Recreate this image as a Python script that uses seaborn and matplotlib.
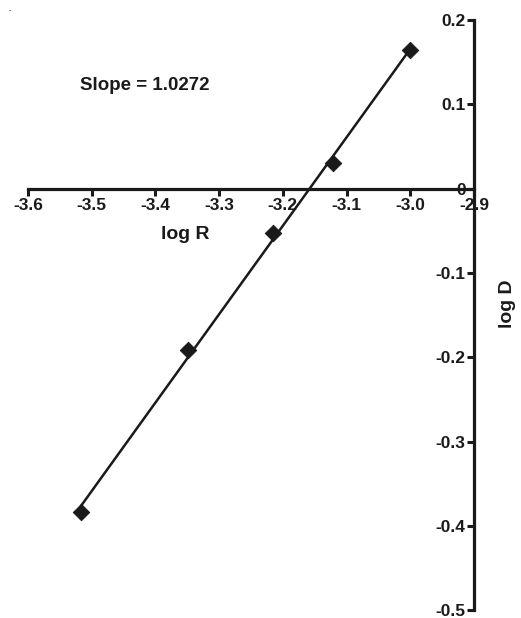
import numpy as np
import pandas as pd
import seaborn as sns
import matplotlib.pyplot as plt
import matplotlib.ticker as mticker

# data
log_r = [-3.5173, -3.3493, -3.2154, -3.1213, -3.0004]
log_d = [-0.384, -0.1915, -0.053, 0.031, 0.1644]

x_ticks = [-3.6, -3.5, -3.4, -3.3, -3.2, -3.1, -3.0, -2.9]
x_ticklabels = ['-3.6', '-3.5', '-3.4', '-3.3', '-3.2', '-3.1', '-3.0', '-2.9']
y_ticks = [-0.5, -0.4, -0.3, -0.2, -0.1, 0.0, 0.1, 0.2]
y_ticklabels = ['-0.5', '-0.4', '-0.3', '-0.2', '-0.1', '0', '0.1', '0.2']

df = pd.DataFrame({'log R': log_r, 'log D': log_d})

sns.set_style('white')
plt.rcParams['font.family'] = ['Liberation Sans', 'DejaVu Sans']
ink = '#1a1a1a'

fig = plt.figure(figsize=(5.21, 6.18), dpi=100)
ax = fig.add_axes([28 / 521, 1 - 610.2 / 618, 446 / 521, 590 / 618])

sns.regplot(data=df, x='log R', y='log D', ax=ax, scatter=False, ci=None,
            truncate=True, line_kws={'color': ink, 'lw': 1.8})
sns.scatterplot(data=df, x='log R', y='log D', ax=ax, marker='D', s=70,
                color=ink, edgecolor=ink, zorder=5)

ax.set_xlim(-3.6, -2.9)
ax.set_ylim(-0.5, 0.2)

# axes crossing: x axis at y=0, y axis at x=-2.9
ax.spines['top'].set_visible(False)
ax.spines['right'].set_visible(False)
ax.spines['bottom'].set_position(('data', 0))
ax.spines['left'].set_position(('data', -2.9))
for s in ['bottom', 'left']:
    ax.spines[s].set_linewidth(2.3)
    ax.spines[s].set_color(ink)

ax.xaxis.set_major_locator(mticker.FixedLocator(x_ticks))
ax.xaxis.set_major_formatter(mticker.FixedFormatter(x_ticklabels))
ax.yaxis.set_major_locator(mticker.FixedLocator(y_ticks))
ax.yaxis.set_major_formatter(mticker.FixedFormatter(y_ticklabels))
ax.tick_params(axis='both', which='major', direction='out', length=5,
               width=2.2, color=ink, labelsize=12.5, labelcolor=ink, pad=2,
               bottom=True, left=True)
ax.tick_params(axis='y', pad=1)
for lab in ax.get_xticklabels() + ax.get_yticklabels():
    lab.set_fontweight('bold')

ax.set_xlabel('log R', fontsize=14, fontweight='bold', color=ink)
ax.xaxis.set_label_coords(0.352, 0.652)
ax.set_ylabel('log D', fontsize=14, fontweight='bold', color=ink)
ax.yaxis.set_label_position('right')
ax.yaxis.set_label_coords(1.055, 0.52)

ax.text(-3.518, 0.1226, 'Slope = 1.0272', fontsize=13.5, fontweight='bold',
        color=ink, va='center', ha='left')

# small stray mark in the top-left corner of the original
fig.text(10 / 521, 1 - 11 / 618, '-', fontsize=5, color=ink,
         ha='center', va='center')

fig.savefig('out.png', dpi=100)
